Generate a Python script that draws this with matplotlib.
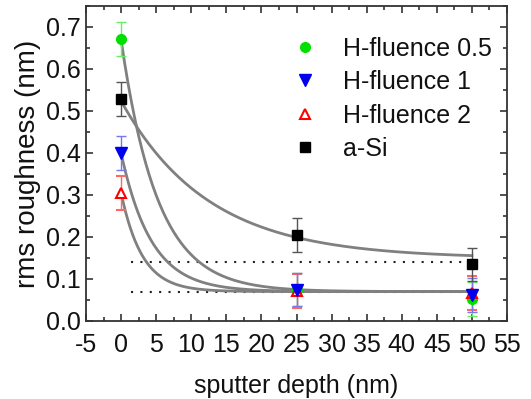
import numpy as np
import matplotlib
matplotlib.use("Agg")
import matplotlib.pyplot as plt
from matplotlib.ticker import MultipleLocator

plt.rcParams['font.family'] = ['Liberation Sans', 'DejaVu Sans']
plt.rcParams['axes.unicode_minus'] = False

depth = [0, 25, 50]
h05 = [0.672, 0.075, 0.052]
h1 = [0.400, 0.075, 0.062]
h2 = [0.305, 0.072, 0.066]
asi = [0.528, 0.205, 0.135]
err = [0.04, 0.04, 0.04]

# exponential fit parameters (y0, A, t)
fit_h05 = (0.07, 0.60, 5.2)
fit_h1 = (0.07, 0.33, 4.3)
fit_h2 = (0.07, 0.235, 3.0)
fit_asi = (0.149, 0.375, 12.4)

ref_levels = [0.14, 0.07]

fig = plt.figure(figsize=(5.31, 3.99), dpi=100)
ax = fig.add_axes([86/531, 1-321/399, (507-86)/531, (321-6)/399])

xx = np.linspace(0, 50, 300)
for (y0, A, t) in [fit_h05, fit_h1, fit_h2, fit_asi]:
    ax.plot(xx, y0 + A*np.exp(-xx/t), color='#808080', lw=2, zorder=2)

for lvl in ref_levels:
    ax.plot([1.4, 50], [lvl, lvl], color='#222222', lw=1.5, ls=(0, (1, 3.5)), zorder=1)

kw = dict(capsize=3.5, elinewidth=1, capthick=1, ls='none', zorder=3)
ax.errorbar(depth, h05, yerr=err, fmt='o', color='#00e000', ecolor='#66ee66', ms=7, label='H-fluence 0.5', **kw)
ax.errorbar(depth, h2, yerr=err, fmt='^', color='red', mfc='white', ecolor='#ff6666', ms=7, mew=1.5, label='H-fluence 2', **kw)
ax.errorbar(depth, h1, yerr=err, fmt='v', color='#0000ee', ecolor='#7777ee', ms=8, label='H-fluence 1', **kw)
ax.errorbar(depth, asi, yerr=err, fmt='s', color='black', ecolor='#555555', ms=6.5, label='a-Si', **kw)

ax.set_xlim(-5, 55)
ax.set_ylim(0, 0.75)
ax.xaxis.set_major_locator(MultipleLocator(5))
ax.xaxis.set_minor_locator(MultipleLocator(2.5))
ax.yaxis.set_minor_locator(MultipleLocator(0.05))
yt = np.arange(0, 0.71, 0.1)
ax.set_yticks(yt)
ax.set_yticklabels([f'{v:.1f}' for v in yt])
ax.tick_params(which='both', direction='in', top=True, right=True, labelsize=18, width=1.2,
               color='#333333', labelcolor='#111111')
ax.tick_params(which='major', length=5, pad=4)
ax.tick_params(which='minor', length=3)
ax.tick_params(axis='x', which='major', pad=9)
for s in ax.spines.values():
    s.set_linewidth(1.3)
    s.set_color('#333333')

ax.set_xlabel('sputter depth (nm)', fontsize=18, labelpad=12, color='#111111')
ax.set_ylabel('rms roughness (nm)', fontsize=20, labelpad=3, color='#111111')

handles, labels = ax.get_legend_handles_labels()
order = ['H-fluence 0.5', 'H-fluence 1', 'H-fluence 2', 'a-Si']
hd = {l: h[0] for h, l in zip(handles, labels)}
ax.legend([hd[l] for l in order], order, loc='upper left', bbox_to_anchor=(0.443, 0.958),
          frameon=False, fontsize=18, handletextpad=0.9, labelspacing=0.38,
          handlelength=1.2, borderpad=0.2, labelcolor='#111111')

fig.savefig('out.png', dpi=100)
